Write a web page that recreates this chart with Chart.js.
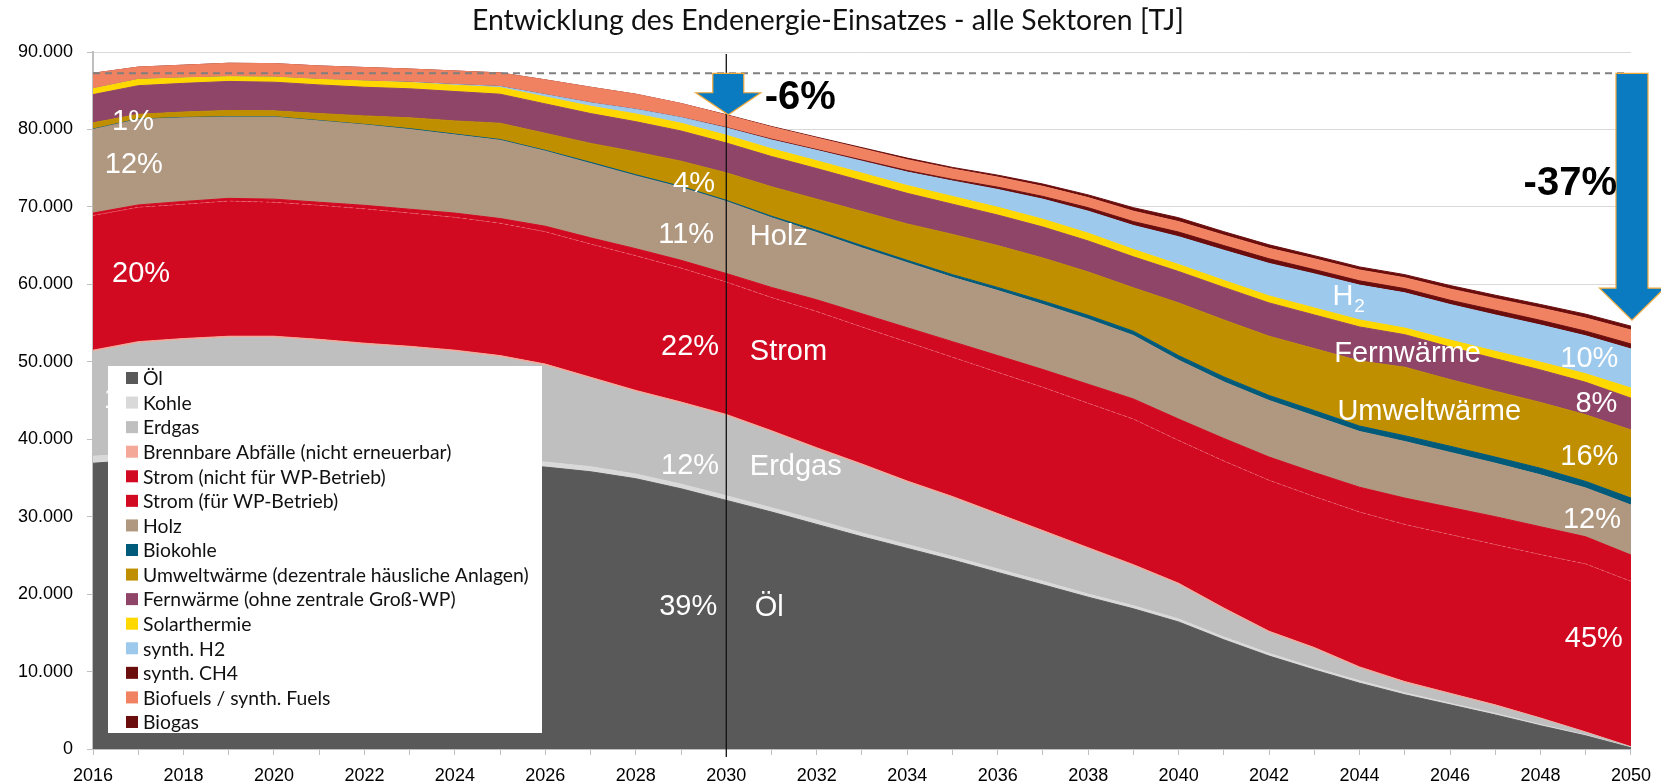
<!DOCTYPE html>
<html lang="de">
<head>
<meta charset="utf-8">
<title>Entwicklung des Endenergie-Einsatzes - alle Sektoren</title>
<script src="https://cdn.jsdelivr.net/npm/chart.js@4.4.1/dist/chart.umd.min.js"></script>
<style>
  html, body { margin: 0; padding: 0; background: #fff; }
  canvas { display: block; }
</style>
</head>
<body>
<canvas id="cv" width="1661" height="784"></canvas>
<script>
/* ── Endenergie-Einsatz, alle Sektoren, gestapelte Flächen [TJ] ── */

const years = [2016, 2017, 2018, 2019, 2020, 2021, 2022, 2023, 2024, 2025, 2026, 2027, 2028, 2029, 2030, 2031, 2032,
  2033, 2034, 2035, 2036, 2037, 2038, 2039, 2040, 2041, 2042, 2043, 2044, 2045, 2046, 2047, 2048, 2049, 2050];

const oel = [36900, 37300, 37600, 37800, 37700, 37500, 37300, 37100, 36900, 36700, 36400, 35800, 34900, 33600, 32100, 30600, 29000,
  27400, 25900, 24400, 22800, 21200, 19600, 18100, 16400, 14100, 12000, 10200, 8500, 7000, 5700, 4400, 3000, 1700, 150];
const kohle = [900, 900, 850, 850, 800, 800, 750, 750, 700, 700, 650, 650, 600, 600, 600, 550, 550,
  500, 500, 450, 450, 450, 400, 400, 400, 350, 350, 300, 300, 250, 200, 200, 150, 100, 50];
const erdgas = [13500, 14200, 14350, 14450, 14600, 14400, 14150, 13950, 13700, 13200, 12450, 11350, 10600, 10400, 10300, 9750, 9150,
  8700, 8000, 7550, 6950, 6350, 5800, 5100, 4400, 3550, 2650, 2400, 1600, 1250, 1150, 950, 750, 300, 50];
const abfaelle = [200, 200, 200, 200, 200, 200, 200, 200, 200, 200, 200, 200, 200, 200, 200, 200, 200,
  200, 200, 200, 200, 200, 200, 200, 200, 200, 200, 200, 200, 200, 150, 150, 100, 100, 50];
const stromOhneWP = [17400, 17350, 17350, 17450, 17300, 17300, 17350, 17200, 17150, 17100, 17100, 17200, 17400, 17300, 17100, 17200, 17600,
  17700, 17950, 18000, 18250, 18500, 18650, 18800, 18450, 19000, 19500, 19500, 20000, 20300, 20500, 20700, 21100, 21700, 21350];
const stromWP = [300, 300, 350, 350, 400, 400, 450, 500, 550, 600, 700, 800, 900, 1000, 1100, 1300, 1500,
  1700, 1850, 2000, 2150, 2300, 2450, 2600, 2750, 2900, 3000, 3100, 3200, 3400, 3500, 3600, 3600, 3500, 3400];
const holz = [10800, 11050, 10800, 10500, 10600, 10500, 10400, 10300, 10100, 10100, 9700, 9600, 9400, 9400, 9300, 9000, 8700,
  8500, 8400, 8300, 8400, 8400, 8400, 8200, 7600, 7300, 7300, 7300, 7200, 7300, 7100, 6900, 6700, 6300, 6450];
const biokohle = [50, 50, 50, 50, 50, 50, 50, 100, 100, 100, 100, 150, 150, 150, 150, 200, 250,
  300, 300, 350, 400, 450, 500, 550, 600, 650, 650, 700, 700, 750, 800, 800, 850, 850, 900];
const umwelt = [800, 600, 700, 800, 750, 900, 1100, 1400, 1700, 2100, 2200, 2450, 2950, 3250, 3550, 3800, 4050,
  4400, 4700, 5200, 5400, 5550, 5600, 5600, 6800, 7350, 7650, 8000, 8400, 8850, 8600, 8500, 8500, 8600, 8800];
const fern = [3650, 3700, 3700, 3750, 3700, 3700, 3700, 3750, 3800, 3750, 3800, 3850, 3900, 3900, 3850, 3900, 3950,
  3950, 3950, 3900, 3950, 4000, 4000, 4000, 4050, 4200, 4300, 4350, 4400, 4200, 4200, 4200, 4200, 4200, 4100];
const solar = [750, 800, 700, 600, 650, 700, 800, 800, 800, 850, 900, 950, 1000, 1000, 1000, 1000, 1000,
  1000, 1000, 1000, 1000, 1000, 1000, 950, 900, 900, 900, 900, 900, 850, 900, 950, 1000, 1100, 1300];
const h2 = [0, 0, 0, 0, 0, 0, 0, 50, 100, 150, 300, 450, 600, 750, 950, 1150, 1350,
  1550, 1750, 2000, 2300, 2600, 2850, 3100, 3600, 3900, 4200, 4400, 4500, 4550, 4600, 4700, 4800, 4900, 5050];
const ch4 = [0, 0, 0, 0, 0, 0, 0, 0, 0, 0, 0, 0, 0, 0, 50, 100, 100,
  150, 200, 200, 300, 350, 450, 500, 600, 600, 600, 550, 550, 550, 550, 600, 600, 600, 650];
const biofuels = [2000, 1600, 1650, 1750, 1750, 1750, 1750, 1700, 1750, 1750, 1900, 2000, 1950, 1800, 1600, 1550, 1500,
  1450, 1400, 1350, 1300, 1300, 1300, 1350, 1350, 1350, 1350, 1400, 1400, 1400, 1450, 1500, 1600, 1700, 1800];
const biogas = [0, 0, 0, 0, 0, 0, 0, 0, 0, 0, 0, 0, 0, 0, 50, 80, 100,
  150, 200, 200, 250, 300, 350, 450, 500, 450, 450, 400, 400, 400, 450, 450, 450, 500, 500];

const seriesNames = ['Öl', 'Kohle', 'Erdgas', 'Brennbare Abfälle (nicht erneuerbar)', 'Strom (nicht für WP-Betrieb)',
  'Strom (für WP-Betrieb)', 'Holz', 'Biokohle', 'Umweltwärme (dezentrale häusliche Anlagen)',
  'Fernwärme (ohne zentrale Groß-WP)', 'Solarthermie', 'synth. H2', 'synth. CH4', 'Biofuels / synth. Fuels', 'Biogas'];
const seriesData = [oel, kohle, erdgas, abfaelle, stromOhneWP, stromWP, holz, biokohle, umwelt, fern, solar, h2, ch4, biofuels, biogas];
const seriesColors = ['#595959', '#d9d9d9', '#bfbfbf', '#f4a898', '#d10a21', '#d10a21', '#b0977f', '#005a7a',
  '#bf8f00', '#8f4568', '#ffd800', '#9dc9ec', '#6b0d0d', '#f08262', '#6b0d0d'];

const yTicks = [0, 10000, 20000, 30000, 40000, 50000, 60000, 70000, 80000, 90000];

// in-chart labels: [text, year, TJ (baseline), align]
const areaLabels = [
  ['1%', 2016.42, 79900, 'left'], ['12%', 2016.26, 74400, 'left'], ['20%', 2016.42, 60300, 'left'],
  ['15%', 2016.24, 44000, 'left'],
  ['4%', 2029.75, 71900, 'right'], ['11%', 2029.73, 65300, 'right'], ['Holz', 2030.52, 65100, 'left'],
  ['22%', 2029.84, 50900, 'right'], ['Strom', 2030.52, 50200, 'left'],
  ['12%', 2029.84, 35500, 'right'], ['Erdgas', 2030.52, 35400, 'left'],
  ['39%', 2029.8, 17300, 'right'], ['Öl', 2030.63, 17200, 'left'],
  ['Fernwärme', 2043.44, 50000, 'left'], ['Umweltwärme', 2043.51, 42500, 'left'],
  ['10%', 2049.72, 49300, 'right'], ['8%', 2049.7, 43500, 'right'], ['16%', 2049.72, 36700, 'right'],
  ['12%', 2049.78, 28500, 'right'], ['45%', 2049.82, 13200, 'right']
];

const FONT_ARIAL = '"Liberation Sans", Arial, sans-serif';
const FONT_CAL = 'Lato, "Open Sans", sans-serif';

function fitSize(text, family, width, weight) {
  const c = document.createElement('canvas').getContext('2d');
  c.font = (weight || 'normal') + ' 100px ' + family;
  return 100 * width / c.measureText(text).width;
}
const titleText = 'Entwicklung des Endenergie-Einsatzes - alle Sektoren [TJ]';
const titleSize = fitSize(titleText, FONT_CAL, 712);
const legendSize = fitSize('Umweltwärme (dezentrale häusliche Anlagen)', FONT_CAL, 386);

const datasets = seriesNames.map((name, i) => ({
  label: name,
  data: seriesData[i],
  backgroundColor: seriesColors[i],
  borderColor: seriesColors[i],
  borderWidth: 1,
  pointRadius: 0,
  tension: 0,
  fill: i === 0 ? 'origin' : '-1'
}));
// faint dashed split inside the red Strom block
datasets[4].borderColor = 'rgba(255,150,150,0.5)';
datasets[4].borderWidth = 0.8;
datasets[4].borderDash = [3, 3];

function totalAt(i) {
  return seriesData.reduce((s, d) => s + d[i], 0);
}

function arrow(ctx, xc, yTop, yHead, yTip, sh, hh) {
  ctx.beginPath();
  ctx.moveTo(xc - sh, yTop); ctx.lineTo(xc + sh, yTop);
  ctx.lineTo(xc + sh, yHead); ctx.lineTo(xc + hh, yHead);
  ctx.lineTo(xc, yTip); ctx.lineTo(xc - hh, yHead);
  ctx.lineTo(xc - sh, yHead); ctx.closePath();
  ctx.fillStyle = '#0a7bc1'; ctx.fill();
  ctx.strokeStyle = '#f2a93b'; ctx.lineWidth = 1.2; ctx.setLineDash([]); ctx.stroke();
}

const overlay = {
  id: 'overlay',
  afterDatasetsDraw(chart) {
    const { ctx, chartArea: ca, scales: { x, y } } = chart;
    const px = yr => x.getPixelForValue(yr - years[0]);
    const py = v => y.getPixelForValue(v);
    const last = years.length - 1;
    const i2030 = years.indexOf(2030);
    const base = totalAt(0);
    ctx.save();

    // 2030 marker
    ctx.beginPath(); ctx.moveTo(px(2030), ca.top + 2); ctx.lineTo(px(2030), ca.bottom + 8);
    ctx.strokeStyle = '#111'; ctx.lineWidth = 1.3; ctx.stroke();

    // 2016 level
    ctx.beginPath(); ctx.moveTo(ca.left, py(base)); ctx.lineTo(px(2050) - 6, py(base));
    ctx.setLineDash([7, 5]); ctx.strokeStyle = '#7f7f7f'; ctx.lineWidth = 2; ctx.stroke();
    ctx.setLineDash([]);

    // white labels
    ctx.fillStyle = '#fff';
    ctx.textBaseline = 'alphabetic';
    ctx.font = '29px ' + FONT_ARIAL;
    areaLabels.forEach(([t, yr, v, al]) => {
      ctx.textAlign = al;
      ctx.fillText(t, px(yr), py(v));
    });
    // H2 with subscript
    ctx.textAlign = 'left';
    ctx.fillText('H', px(2043.4), py(57350));
    const hw = ctx.measureText('H').width;
    ctx.font = '19px ' + FONT_ARIAL;
    ctx.fillText('2', px(2043.4) + hw + 1, py(56450));

    // reduction arrows
    arrow(ctx, px(2030) + 2, py(base), py(totalAt(i2030)) - 22, py(totalAt(i2030)), 15.5, 32.5);
    arrow(ctx, px(2050) + 1, py(base), py(totalAt(last)) - 38, py(totalAt(last)) - 6, 16, 32.5);
    ctx.fillStyle = '#000';
    ctx.font = 'bold 40px ' + FONT_ARIAL;
    ctx.textAlign = 'left';
    ctx.fillText('-6%', px(2030.85), py(82600));
    ctx.textAlign = 'right';
    ctx.fillText('-37%', px(2049.69), py(71500));

    // legend box
    const lx = 108, ly = 366, lw = 434, lh = 367, row = 24.57;
    ctx.fillStyle = '#fff';
    ctx.fillRect(lx, ly, lw, lh);
    ctx.font = legendSize.toFixed(2) + 'px ' + FONT_CAL;
    ctx.textAlign = 'left';
    ctx.textBaseline = 'middle';
    chart.data.datasets.forEach((ds, i) => {
      const cy = ly + 12 + i * row;
      ctx.fillStyle = seriesColors[i];
      ctx.fillRect(lx + 18, cy - 6, 12, 12);
      ctx.fillStyle = '#111';
      ctx.fillText(ds.label, lx + 35, cy + 1);
    });
    ctx.restore();
  }
};

new Chart(document.getElementById('cv'), {
  type: 'line',
  data: { labels: years, datasets },
  options: {
    responsive: false,
    animation: false,
    layout: { padding: { left: 18, right: 23, top: 0, bottom: 0 } },
    plugins: {
      legend: { display: false },
      tooltip: { enabled: false },
      title: {
        display: true,
        text: titleText,
        color: '#111',
        font: { family: FONT_CAL, size: titleSize, weight: 'normal', lineHeight: 1.2 },
        padding: { top: 4, bottom: 52 - 4 - titleSize * 1.2 }
      }
    },
    scales: {
      x: {
        type: 'category',
        offset: false,
        grid: { drawOnChartArea: false, drawTicks: true, tickLength: 6, color: '#bfbfbf' },
        border: { color: '#bfbfbf', width: 2 },
        ticks: {
          autoSkip: false, maxRotation: 0, padding: 10,
          color: '#000', font: { family: FONT_ARIAL, size: 18 },
          callback: (v, i) => (years[i] % 2 === 0 ? String(years[i]) : '')
        },
        afterFit: s => { s.height = 35; }
      },
      y: {
        stacked: true,
        min: 0, max: 90000,
        afterBuildTicks: s => { s.ticks = yTicks.map(v => ({ value: v })); },
        grid: { color: '#d9d9d9', lineWidth: 1, tickLength: 6, tickColor: '#bfbfbf' },
        border: { color: '#bfbfbf', width: 2 },
        ticks: {
          padding: 14, color: '#000', font: { family: FONT_ARIAL, size: 18 },
          callback: v => v.toLocaleString('de-DE')
        },
        afterFit: s => { s.width = 75; }
      }
    }
  },
  plugins: [overlay]
});
</script>
</body>
</html>
